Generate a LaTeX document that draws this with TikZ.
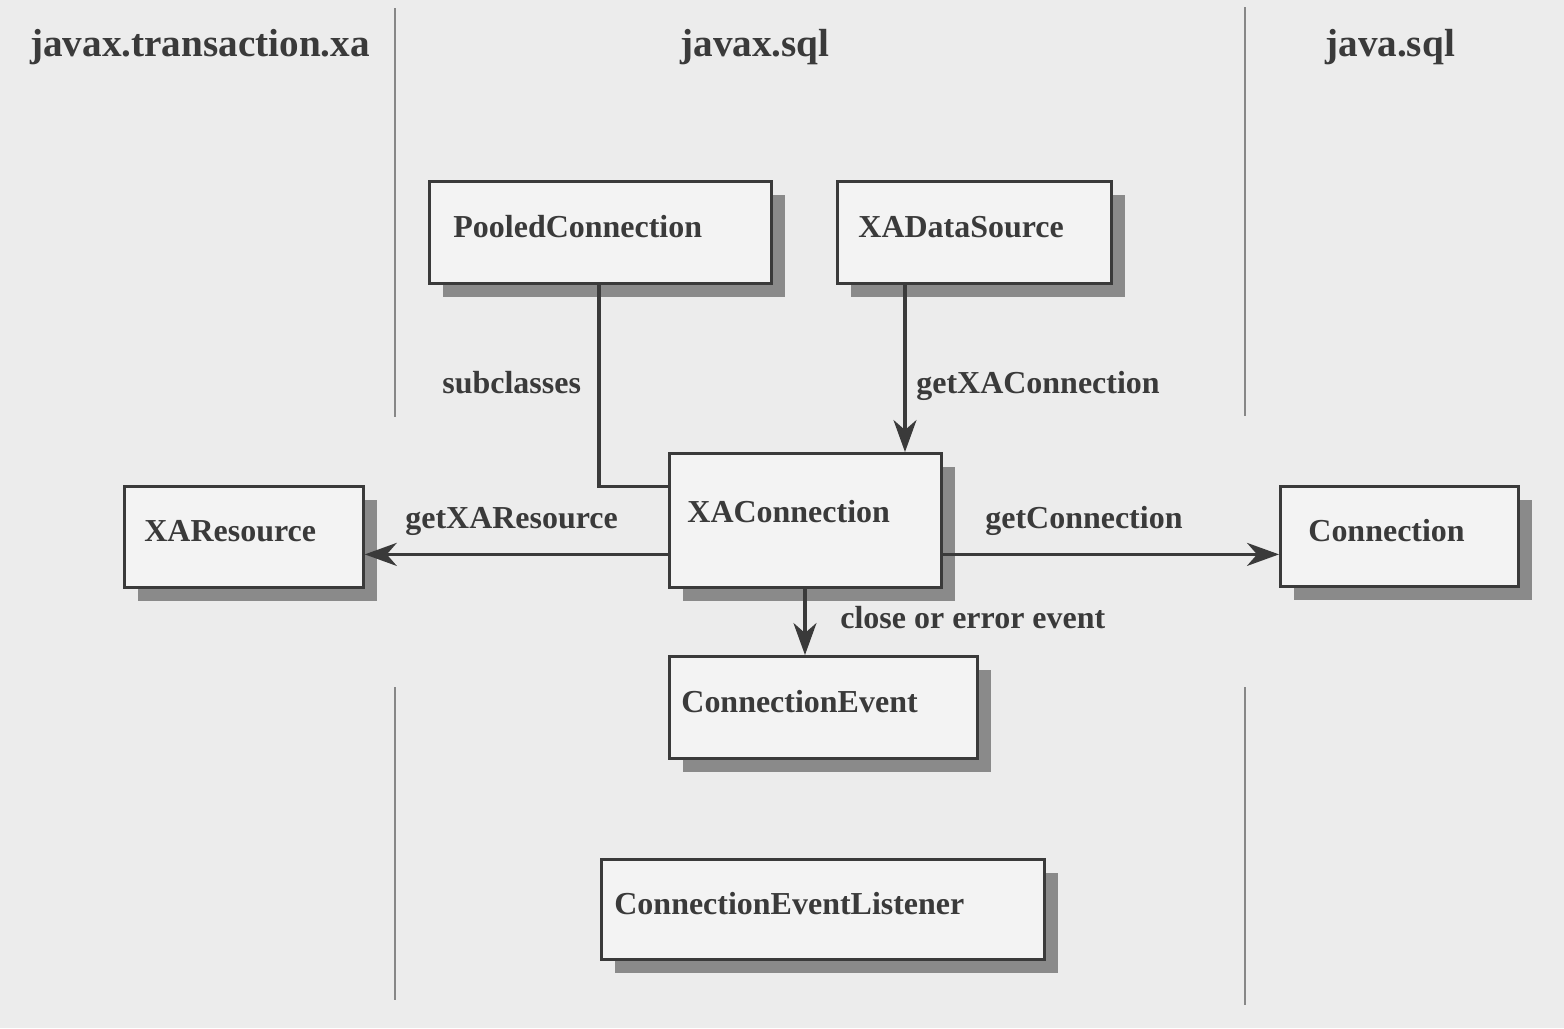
\documentclass[tikz,border=0pt]{standalone}
\usepackage{fontspec}
\setmainfont{Liberation Serif}
\usetikzlibrary{arrows.meta,shadows}

\definecolor{paper}{RGB}{236,236,236}
\definecolor{boxfill}{RGB}{243,243,243}
\definecolor{ink}{RGB}{58,58,58}
\definecolor{shade}{RGB}{138,138,138}
\definecolor{rule}{RGB}{135,135,135}

\begin{document}
\begin{tikzpicture}[
              x=0.02cm, y=-0.02cm,
              font=\fontsize{18.2}{22}\selectfont\bfseries,
              every node/.style={text=ink},
              box/.style={draw=ink, fill=boxfill, line width=1.6pt, align=left,
                anchor=north west, inner ysep=0pt, text height=0.45cm, text depth=0.25cm,
                drop shadow={shadow xshift=0.28cm, shadow yshift=-0.28cm, fill=shade, opacity=1}},
              link/.style={draw=ink, line width=1.8pt},
              call/.style={link, -{Stealth[length=6.4mm, width=4.6mm, inset=2mm]}},
              divider/.style={draw=rule, line width=1.1pt},
              pkg/.style={anchor=base west, inner sep=0pt, font=\fontsize{22.3}{26}\selectfont\bfseries},
              lbl/.style={anchor=base west, inner sep=0pt}
            ]
              \fill[paper] (0,0) rectangle (1564,1028);

              % package columns
              \draw[divider] (395,8) -- (395,417);
              \draw[divider] (395,687) -- (395,1000);
              \draw[divider] (1245,7) -- (1245,416);
              \draw[divider] (1245,687) -- (1245,1005);
              \node[pkg] (xa) at (30,56) {javax.transaction.xa};
              \node[pkg] (xsql) at (680,56) {javax.sql};
              \node[pkg] (jsql) at (1325,56) {java.sql};

              % classes
              \node[box, minimum height=2.04cm, text width=5.88cm, inner xsep=0.48cm] (pc) at (428,180) {PooledConnection};
              \node[box, minimum height=2.04cm, text width=4.64cm, inner xsep=0.42cm] (xds) at (836,180) {XADataSource};
              \node[box, minimum height=2.02cm, text width=3.98cm, inner xsep=0.40cm] (xar) at (123,485) {XAResource};
              \node[box, minimum height=2.68cm, text width=4.72cm, inner xsep=0.36cm, text depth=0.36cm] (xac) at (668,452) {XAConnection};
              \node[box, minimum height=2.00cm, text width=3.64cm, inner xsep=0.56cm] (con) at (1279,485) {Connection};
              \node[box, minimum height=2.04cm, text width=5.68cm, inner xsep=0.24cm] (cev) at (668,655) {ConnectionEvent};
              \node[box, minimum height=2.00cm, text width=8.34cm, inner xsep=0.26cm] (cel) at (600,858) {ConnectionEventListener};

              % relations
              \draw[link] ([xshift=3.42cm]pc.south west) |- ([yshift=0.68cm]xac.west);
              \draw[call] ([xshift=1.38cm]xds.south west) -- ([xshift=1.38cm]xds.south west |- xac.north);
              \draw[call] ([yshift=-0.68cm]xac.west) -- ([yshift=-0.68cm]xac.west -| xar.east);
              \draw[call] ([yshift=-0.68cm]xac.east) -- ([yshift=-0.68cm]xac.east -| con.west);
              \draw[call] ([xshift=2.74cm]xac.south west) -- ([xshift=2.74cm]xac.south west |- cev.north);

              \node[lbl] (sub) at (442,393) {subclasses};
              \node[lbl] (gxc) at (916,393) {getXAConnection};
              \node[lbl] (gxr) at (405,528) {getXAResource};
              \node[lbl] (gc) at (985,528) {getConnection};
              \node[lbl] (ev) at (840,628) {close or error event};
            \end{tikzpicture}
\end{document}
